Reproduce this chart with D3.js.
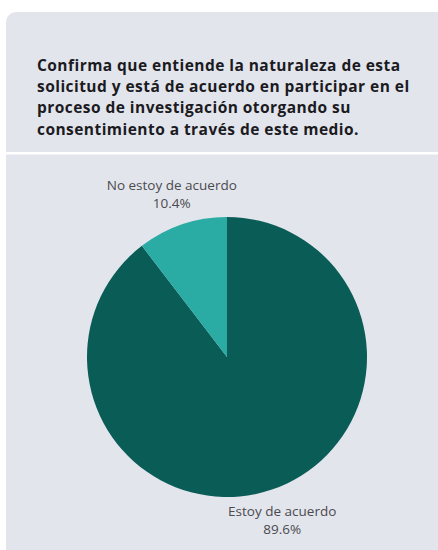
<!DOCTYPE html>
<html>
<head>
<meta charset="utf-8">
<script src="https://cdn.jsdelivr.net/npm/d3@7"></script>
<style>
  html, body { margin: 0; padding: 0; background: #ffffff; }
  svg { display: block; }
</style>
</head>
<body>
<div id="chart"></div>
<script>
// Survey question and responses
const titleLines = [
  "Confirma que entiende la naturaleza de esta",
  "solicitud y está de acuerdo en participar en el",
  "proceso de investigación otorgando su",
  "consentimiento a través de este medio."
];
const categories = ["Estoy de acuerdo", "No estoy de acuerdo"];
const values = [89.6, 10.4];
const colors = ["#0a5c57", "#2aaba4"];

const W = 438, H = 550;
const svg = d3.select("#chart").append("svg")
  .attr("width", W).attr("height", H);

// Card background
svg.append("rect")
  .attr("x", 6).attr("y", 12)
  .attr("width", W - 6 + 10).attr("height", H - 12 + 10)
  .attr("rx", 10).attr("ry", 10)
  .attr("fill", "#e3e5ec");

// Separator between header and chart body
svg.append("rect")
  .attr("x", 6).attr("y", 152)
  .attr("width", W - 6).attr("height", 2.5)
  .attr("fill", "#ffffff");

// Title
svg.append("g").selectAll("text")
  .data(titleLines).join("text")
  .attr("x", 37)
  .attr("y", (d, i) => 71 + i * 21.2)
  .attr("font-family", "'Open Sans', sans-serif")
  .attr("font-weight", 700)
  .attr("font-size", 15.5)
  .attr("letter-spacing", 0.45)
  .attr("fill", "#1b1b1f")
  .text(d => d);

// Pie
const cx = 227, cy = 357, r = 140;
const color = d3.scaleOrdinal().domain(categories).range(colors);
const pie = d3.pie().sort(null).value(d => d.value);
const data = categories.map((c, i) => ({ category: c, value: values[i] }));
const arcs = pie(data);

const arc = d3.arc().innerRadius(0).outerRadius(r);
const labelArc = d3.arc().innerRadius(172).outerRadius(172);

const g = svg.append("g").attr("transform", `translate(${cx},${cy})`);
g.selectAll("path")
  .data(arcs).join("path")
  .attr("d", arc)
  .attr("fill", d => color(d.data.category));

const labels = g.selectAll("g.label")
  .data(arcs).join("g")
  .attr("class", "label")
  .attr("transform", d => `translate(${labelArc.centroid(d)})`);

labels.append("text")
  .attr("text-anchor", "middle")
  .attr("y", -4)
  .attr("font-family", "'Open Sans', sans-serif")
  .attr("font-size", 13.5)
  .attr("fill", "#4a4a4f")
  .text(d => d.data.category);

labels.append("text")
  .attr("text-anchor", "middle")
  .attr("y", 14)
  .attr("font-family", "'Open Sans', sans-serif")
  .attr("font-size", 13.5)
  .attr("fill", "#4a4a4f")
  .text(d => d.data.value.toFixed(1) + "%");
</script>
</body>
</html>
